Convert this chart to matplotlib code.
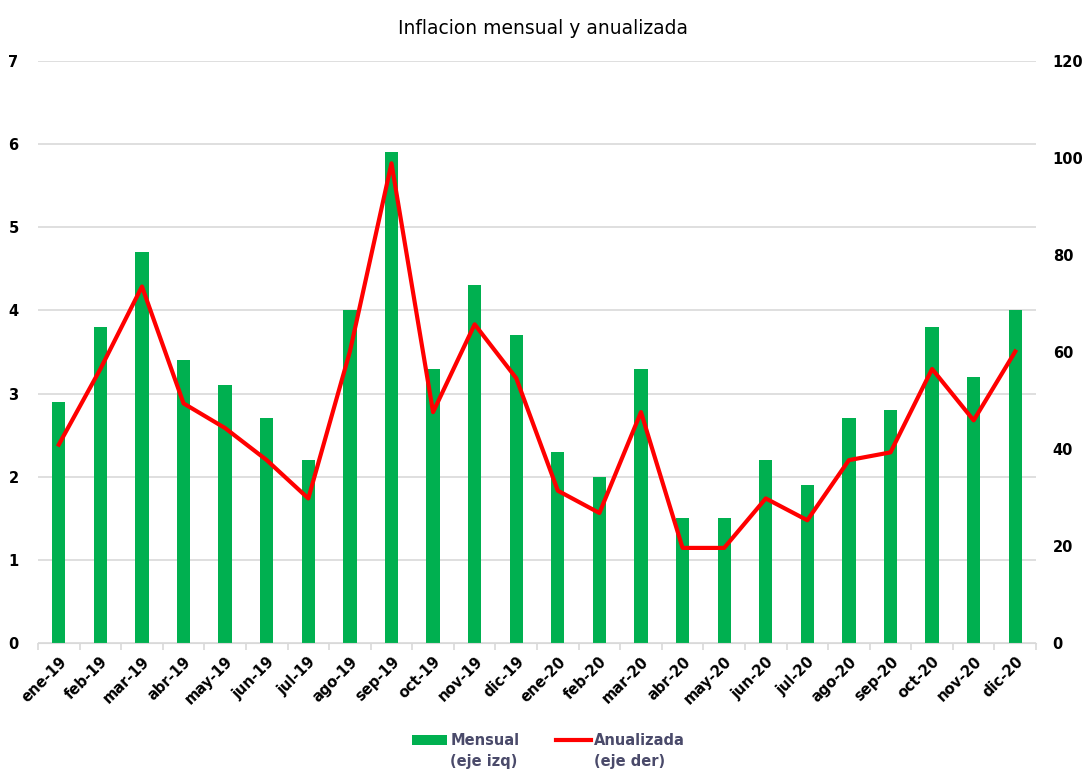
import numpy as np
import matplotlib
matplotlib.use("Agg")
import matplotlib.pyplot as plt

# Data
months = ["ene-19", "feb-19", "mar-19", "abr-19", "may-19", "jun-19", "jul-19", "ago-19",
          "sep-19", "oct-19", "nov-19", "dic-19", "ene-20", "feb-20", "mar-20", "abr-20",
          "may-20", "jun-20", "jul-20", "ago-20", "sep-20", "oct-20", "nov-20", "dic-20"]
mensual = [2.9, 3.8, 4.7, 3.4, 3.1, 2.7, 2.2, 4.0, 5.9, 3.3, 4.3, 3.7,
           2.3, 2.0, 3.3, 1.5, 1.5, 2.2, 1.9, 2.7, 2.8, 3.8, 3.2, 4.0]
anualizada = [40.9, 56.5, 73.5, 49.4, 44.3, 37.7, 29.8, 60.1, 98.9, 47.6, 65.7, 54.6,
              31.4, 26.8, 47.6, 19.6, 19.6, 29.8, 25.3, 37.7, 39.3, 56.5, 45.9, 60.1]
legend_names = ["Mensual", "Anualizada"]
legend_notes = ["(eje izq)", "(eje der)"]

GREEN = "#00B050"
RED = "#FF0000"
GRID = "#D9D9D9"
LEG_TXT = "#4A4A6A"

plt.rcParams["font.family"] = ["DejaVu Sans"]

fig = plt.figure(figsize=(10.86, 7.77), dpi=100)
ax = fig.add_axes([0.035, 0.1725, 0.919, 0.749])
ax2 = ax.twinx()

x = np.arange(len(months))
ax.bar(x, mensual, width=0.32, color=GREEN, zorder=2, label=legend_names[0])
ax2.plot(x, anualizada, color=RED, lw=3, zorder=3, label=legend_names[1])

ax.set_xlim(-0.5, len(months) - 0.5)
ax.set_ylim(0, 7)
ax2.set_ylim(0, 120)
ax.set_yticks(range(0, 8))
ax2.set_yticks(range(0, 121, 20))
ax.yaxis.grid(True, color=GRID, lw=1.2, zorder=0)
ax.set_axisbelow(True)

for a in (ax, ax2):
    for s in a.spines.values():
        s.set_visible(False)
ax.spines["bottom"].set_visible(True)
ax.spines["bottom"].set_color(GRID)

ax.set_xticks(np.arange(-0.5, len(months), 1), minor=True)
ax.set_xticks(x)
ax.set_xticklabels(months, rotation=45, ha="right", rotation_mode="anchor",
                   fontsize=10.5, fontweight="bold")
ax.tick_params(axis="x", which="major", length=0, pad=8)
ax.tick_params(axis="x", which="minor", length=5, color=GRID, width=1.2)
ax.tick_params(axis="y", length=0, pad=14, labelsize=10.5)
ax2.tick_params(axis="y", length=0, pad=12, labelsize=10.5)
for lab in ax.get_yticklabels() + ax2.get_yticklabels():
    lab.set_fontweight("bold")

fig.suptitle("Inflacion mensual y anualizada", y=0.975, fontsize=13.5)

h1, l1 = ax.get_legend_handles_labels()
h2, l2 = ax2.get_legend_handles_labels()
leg = fig.legend(h1 + h2, l1 + l2, loc="center", ncol=2, frameon=False,
                 bbox_to_anchor=(0.505, 0.047), fontsize=10.5, handlelength=2.4,
                 handletextpad=0.2, columnspacing=2.5)
for t in leg.get_texts():
    t.set_color(LEG_TXT)
    t.set_fontweight("bold")

# second line of each legend entry, placed under its label
fig.canvas.draw()
inv = fig.transFigure.inverted()
for t, note in zip(leg.get_texts(), legend_notes):
    bb = t.get_window_extent()
    x0, y0 = inv.transform((bb.x0, bb.y0))
    fig.text(x0, y0 - 0.008, note, ha="left", va="top", fontsize=10.5,
             fontweight="bold", color=LEG_TXT)

fig.savefig("out.png", dpi=100)
